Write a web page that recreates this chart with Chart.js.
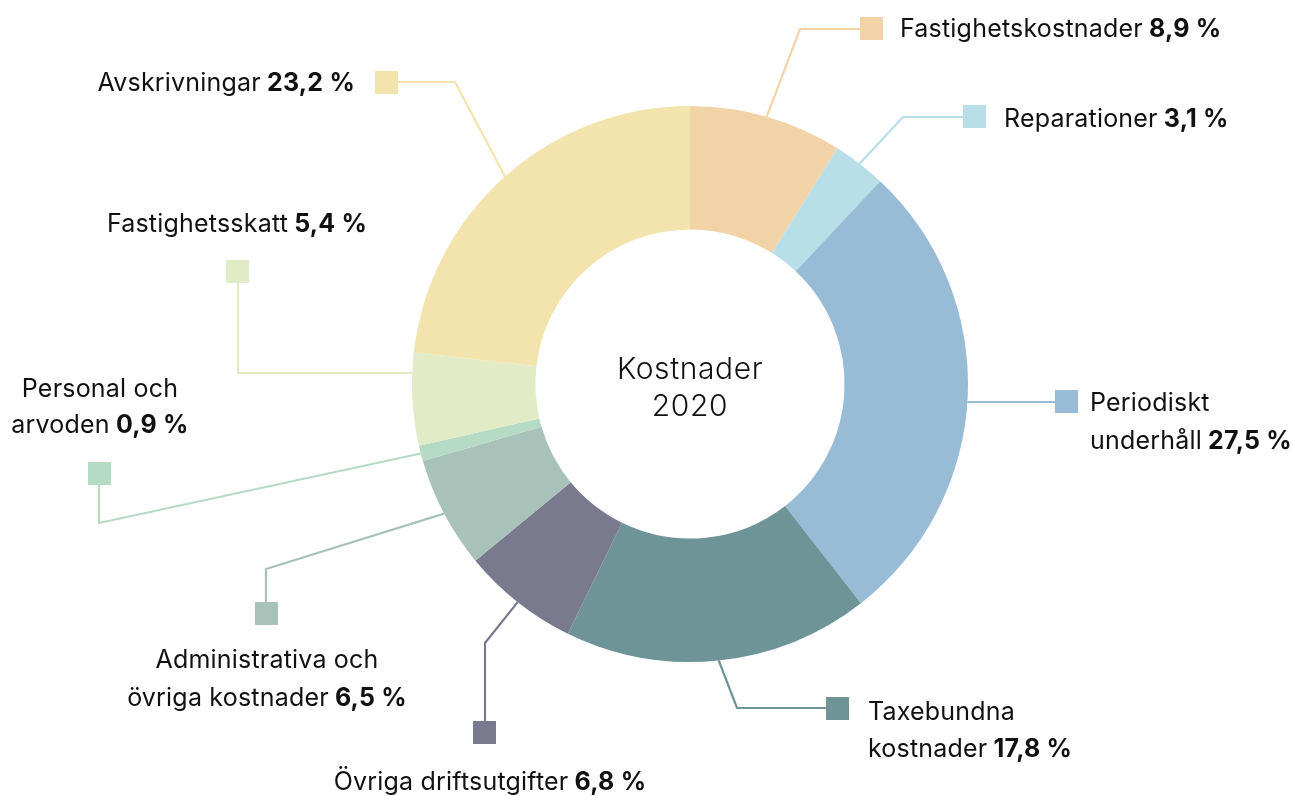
<!DOCTYPE html>
<html><head><meta charset="utf-8">
<script src="https://cdn.jsdelivr.net/npm/chart.js@4.4.0/dist/chart.umd.min.js"></script>
<style>html,body{margin:0;padding:0;background:#fff;overflow:hidden}#wrap{width:1291px;height:796px;position:relative}</style>
</head><body><div id="wrap"><canvas id="c" width="1291" height="796"></canvas></div>
<script>
// ---- data ----
const categoryLines = [
  ['Fastighetskostnader'],
  ['Reparationer'],
  ['Periodiskt', 'underhåll'],
  ['Taxebundna', 'kostnader'],
  ['Övriga driftsutgifter'],
  ['Administrativa och', 'övriga kostnader'],
  ['Personal och', 'arvoden'],
  ['Fastighetsskatt'],
  ['Avskrivningar']
];
const categories = categoryLines.map(l => l.join(' '));
const values = [8.9, 3.1, 27.5, 17.8, 6.8, 6.5, 0.9, 5.4, 23.2];
const colors = ['#F2D3A7', '#B8DFE8', '#98BBD6', '#6F9498', '#7A7A8F', '#A8C2B9', '#B5DBC4', '#E1EBC6', '#F3E4AE'];
const centerTitle = ['Kostnader', '2020'];

const fmt = v => v.toFixed(1).replace('.', ',') + ' %';

// ---- label layout (annotation placement) ----
const leaderLayout = [
  {mode:'mid', path:[[800,29],[860,29]], box:[860,17], tx:900, align:'left', base:[37]},
  {mode:'mid', path:[[903,117],[963,117]], box:[963,105], tx:1004, align:'left', base:[127]},
  {mode:'h',   path:[[1055,402]], box:[1055,390], tx:1090, align:'left', base:[411,449]},
  {mode:'mid', path:[[737,708],[826,708]], box:[826,697], tx:868, align:'left', base:[720,757]},
  {mode:'mid', path:[[485,643],[485,721]], box:[473,721], tx:490, align:'center', base:[790]},
  {mode:'mid', path:[[266,569],[266,602]], box:[255,602], tx:267, align:'center', base:[668,706]},
  {mode:'mid', path:[[99,523],[99,485]], box:[88,462], tx:100, align:'center', base:[397,433]},
  {mode:'h',   path:[[238,373],[238,283]], box:[226,260], tx:237, align:'center', base:[232]},
  {mode:'mid', path:[[455,82],[398,82]], box:[375,71], tx:355, align:'right', base:[91]}
];
const BOX = 23;
const FONT = 'Inter, "Liberation Sans", Arial, sans-serif';
const FS = 25;
const LS = '0.2px';

function drawRich(ctx, parts, x, y, align) {
  ctx.letterSpacing = LS;
  const widths = parts.map(p => { ctx.font = (p.b ? '700 ' : '400 ') + FS + 'px ' + FONT; return ctx.measureText(p.t).width; });
  const total = widths.reduce((a, b) => a + b, 0);
  let sx = align === 'left' ? x : align === 'right' ? x - total : x - total / 2;
  parts.forEach((p, i) => {
    ctx.font = (p.b ? '700 ' : '400 ') + FS + 'px ' + FONT;
    ctx.fillText(p.t, sx, y);
    sx += widths[i];
  });
}

const leaderPlugin = {
  id: 'leaders',
  afterDraw(chart) {
    const ctx = chart.ctx;
    const meta = chart.getDatasetMeta(0);
    ctx.save();
    meta.data.forEach((arc, i) => {
      const L = leaderLayout[i];
      const p = arc.getProps(['x','y','startAngle','endAngle','outerRadius'], true);
      const mid = (p.startAngle + p.endAngle) / 2;
      const R = p.outerRadius;
      let sx, sy;
      if (L.mode === 'h') {
        sy = L.path[0][1];
        const dy = sy - p.y;
        sx = p.x + Math.sign(Math.cos(mid)) * Math.sqrt(Math.max(0, R*R - dy*dy));
      } else {
        sx = p.x + Math.cos(mid) * R;
        sy = p.y + Math.sin(mid) * R;
      }
      ctx.strokeStyle = colors[i];
      ctx.lineWidth = 2.2;
      ctx.lineJoin = 'miter';
      ctx.beginPath();
      ctx.moveTo(sx, sy);
      L.path.forEach(pt => ctx.lineTo(pt[0], pt[1]));
      ctx.stroke();
      ctx.fillStyle = colors[i];
      ctx.fillRect(L.box[0], L.box[1], BOX, BOX);
      // text
      ctx.fillStyle = '#111111';
      ctx.textBaseline = 'alphabetic';
      ctx.textAlign = 'left';
      const lines = categoryLines[i];
      lines.forEach((ln, k) => {
        const parts = [{t: ln, b: false}];
        if (k === lines.length - 1) parts.push({t: ' ' + fmt(values[i]), b: true});
        drawRich(ctx, parts, L.tx, L.base[k], L.align);
      });
    });
    // center title
    const a0 = meta.data[0];
    ctx.fillStyle = '#111111';
    ctx.textAlign = 'center';
    ctx.letterSpacing = '0.6px';
    ctx.font = '300 30px ' + FONT;
    ctx.fillText(centerTitle[0], a0.x, 379);
    ctx.fillText(centerTitle[1], a0.x, 416);
    ctx.restore();
  }
};

new Chart(document.getElementById('c'), {
  type: 'doughnut',
  data: {
    labels: categories,
    datasets: [{
      data: values,
      backgroundColor: colors,
      borderWidth: 0,
      hoverOffset: 0
    }]
  },
  options: {
    responsive: false,
    maintainAspectRatio: false,
    devicePixelRatio: 1,
    animation: false,
    cutout: '55.6%',
    layout: { padding: { top: 106, bottom: 134, left: 300, right: 211 } },
    plugins: { legend: { display: false }, tooltip: { enabled: false } },
    events: []
  },
  plugins: [leaderPlugin]
});
</script>
</body></html>
